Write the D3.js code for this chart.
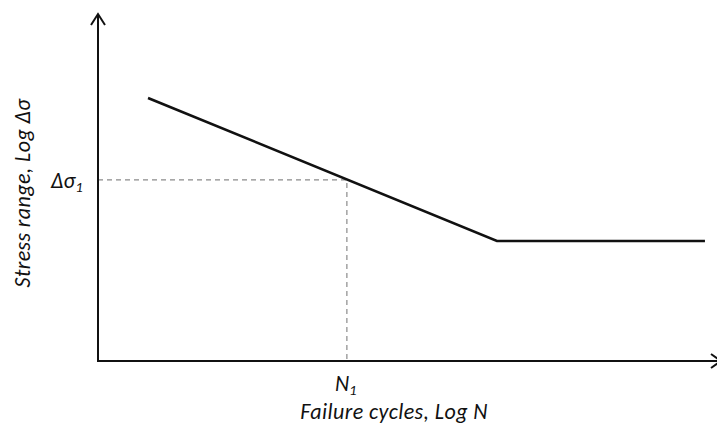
<!DOCTYPE html>
<html>
<head>
<meta charset="utf-8">
<script src="https://cdn.jsdelivr.net/npm/d3@7"></script>
<style>
  body { margin: 0; background: #fff; }
  svg text { font-family: Carlito, "Open Sans", sans-serif; font-style: italic; fill: #111; }
</style>
</head>
<body>
<div id="chart"></div>
<script>
'use strict';

// S-N curve in log units (schematic)
const curveLogN = [0.82, 6.54, 9.95];
const curveLogS = [7.58, 3.46, 3.46];
// reference point
const refLogN = 4.08;
const refLogS = 5.22;
const xTitle = "Failure cycles, Log N";
const yTitle = "Stress range, Log Δσ";

const width = 717, height = 427;

const svg = d3.select('#chart').append('svg')
  .attr('width', width)
  .attr('height', height);

const x = d3.scaleLinear().domain([0, 10]).range([98, 708]);
const y = d3.scaleLinear().domain([0, 10]).range([361, 14]);

// dashed guides to the reference point
svg.append('path')
  .attr('d', d3.line()([[x(0), y(refLogS)], [x(refLogN), y(refLogS)], [x(refLogN), y(0)]]))
  .attr('fill', 'none')
  .attr('stroke', '#8a8a8a')
  .attr('stroke-width', 1.2)
  .attr('stroke-dasharray', '5,4');

// axes
const x0 = x(0), y0 = y(0);
svg.append('line')
  .attr('x1', x0).attr('y1', y0).attr('x2', 722).attr('y2', y0)
  .attr('stroke', '#111').attr('stroke-width', 2);
svg.append('line')
  .attr('x1', x0).attr('y1', y0 + 1).attr('x2', x0).attr('y2', y(10))
  .attr('stroke', '#111').attr('stroke-width', 2);

// arrow heads (open chevrons)
svg.append('path')
  .attr('d', `M${x0 - 7},${y(10) + 11}L${x0},${y(10)}L${x0 + 7},${y(10) + 11}`)
  .attr('fill', 'none').attr('stroke', '#111').attr('stroke-width', 2);
svg.append('path')
  .attr('d', `M${711},${y0 - 7}L${721},${y0}L${711},${y0 + 7}`)
  .attr('fill', 'none').attr('stroke', '#111').attr('stroke-width', 2);

// S-N curve
const pts = curveLogN.map((n, i) => [x(n), y(curveLogS[i])]);
svg.append('path')
  .attr('d', d3.line()(pts))
  .attr('fill', 'none')
  .attr('stroke', '#111')
  .attr('stroke-width', 2.6)
  .attr('stroke-linejoin', 'miter');

// labels
const ds = svg.append('text')
  .attr('x', 51).attr('y', y(refLogS) + 8)
  .style('font-size', '22px');
ds.append('tspan').text('Δσ');
ds.append('tspan').attr('dy', 4).style('font-size', '15px').text('1');

const nl = svg.append('text')
  .attr('x', x(refLogN) - 12).attr('y', 391)
  .style('font-size', '22px');
nl.append('tspan').text('N');
nl.append('tspan').attr('dy', 4).style('font-size', '15px').text('1');

svg.append('text')
  .attr('x', 394).attr('y', 419)
  .attr('text-anchor', 'middle')
  .style('font-size', '22px')
  .style('letter-spacing', '0.4px')
  .text(xTitle);

svg.append('text')
  .attr('transform', 'translate(30, 193) rotate(-90)')
  .attr('text-anchor', 'middle')
  .style('font-size', '22px')
  .style('letter-spacing', '0.4px')
  .text(yTitle);
</script>
</body>
</html>
